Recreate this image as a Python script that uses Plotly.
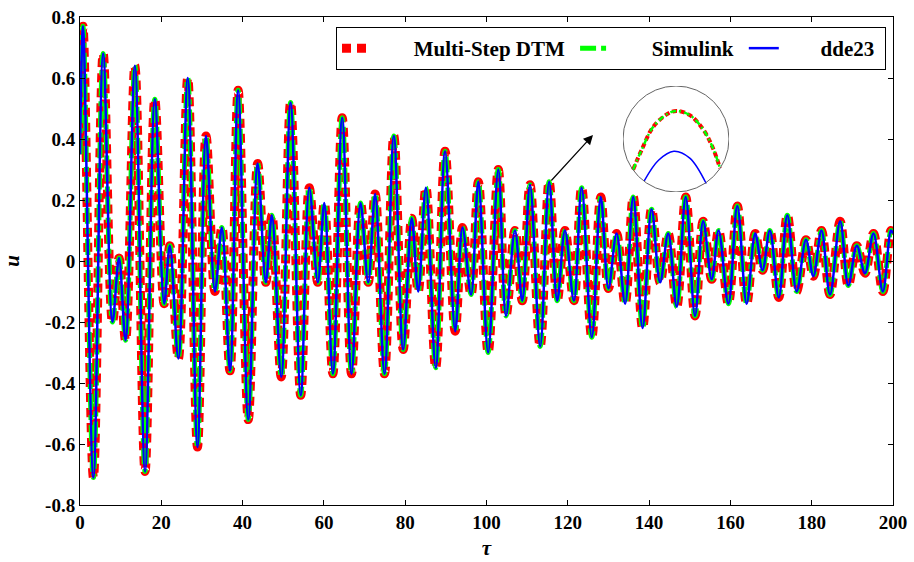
import plotly.graph_objects as go

# ---- data (local extrema) ----
tau = [0.0, 0.74, 3.3, 5.7, 8.0, 9.6, 11.2, 13.5, 16.0, 18.4, 20.7, 22.1, 24.2, 26.5, 28.9,
       31.0, 33.2, 34.9, 36.9, 38.9, 41.4, 43.7, 45.7, 47.2, 49.5, 51.8, 54.3, 56.4, 58.5,
       60.1, 62.2, 64.5, 66.8, 69.0, 70.9, 72.6, 74.9, 77.2, 79.5, 81.6, 83.2, 85.1, 87.5,
       89.8, 92.3, 94.1, 96.2, 98.0, 100.4, 102.9, 104.8, 107.0, 108.8, 110.7, 113.2, 115.4,
       117.4, 119.3, 121.5, 123.4, 125.9, 128.1, 130.0, 132.0, 134.1, 136.1, 138.4, 140.6,
       142.7, 144.7, 146.8, 149.0, 151.3, 153.3, 155.4, 157.1, 159.5, 161.7, 164.0, 166.1,
       167.9, 169.7, 171.9, 174.0, 176.3, 178.6, 180.4, 182.4, 184.5, 187.0, 189.0, 191.1,
       193.1, 195.2, 197.5, 199.5, 200.0]
u_dtm = [0.35, 0.77, -0.71, 0.68, -0.20, 0.01, -0.26, 0.64, -0.69, 0.53, -0.14, 0.05, -0.32, 0.60, -0.61,
         0.41, -0.10, 0.11, -0.36, 0.56, -0.52, 0.32, -0.07, 0.15, -0.38, 0.52, -0.44, 0.24, -0.07,
         0.19, -0.37, 0.47, -0.37, 0.19, -0.07, 0.22, -0.37, 0.41, -0.29, 0.14, -0.10, 0.24, -0.35,
         0.36, -0.23, 0.11, -0.11, 0.26, -0.30, 0.30, -0.18, 0.10, -0.13, 0.25, -0.28, 0.26,
         -0.13, 0.10, -0.13, 0.24, -0.25, 0.21, -0.09, 0.09, -0.14, 0.21, -0.22, 0.17,
         -0.07, 0.09, -0.15, 0.21, -0.18, 0.13, -0.06, 0.10, -0.14, 0.18, -0.14, 0.09,
         -0.03, 0.10, -0.12, 0.15, -0.10, 0.07, -0.05, 0.10, -0.11, 0.13, -0.08, 0.05,
         -0.04, 0.09, -0.10, 0.10, 0.09]
u_simulink = list(u_dtm)
u_dde23 = list(u_dtm)

# magnified view shown in the circle (local units)
zoom_x = [-0.81, -0.65, -0.43, -0.15, 0.01, 0.26, 0.52, 0.70, 0.83]
zoom_dtm = [-0.58, -0.21, 0.23, 0.48, 0.53, 0.45, 0.17, -0.18, -0.55]
zoom_x_dde = [-0.60, -0.33, -0.04, 0.26, 0.57]
zoom_dde = [-0.79, -0.40, -0.23, -0.36, -0.84]

x_ticks = [0, 20, 40, 60, 80, 100, 120, 140, 160, 180, 200]
y_ticks = [-0.8, -0.6, -0.4, -0.2, 0, 0.2, 0.4, 0.6, 0.8]
y_tick_text = ["-0.8", "-0.6", "-0.4", "-0.2", "0", "0.2", "0.4", "0.6", "0.8"]
series_names = ["Multi-Step DTM", "Simulink", "dde23"]

FONT = "Liberation Serif, Times New Roman, serif"
RED = "rgb(255,0,0)"
GREEN = "rgb(0,255,0)"
BLUE = "rgb(0,0,255)"

def legend_name(s):
    return "&nbsp;" * 7 + "<b>" + s + "</b>" + "&nbsp;"

fig = go.Figure()
fig.add_trace(go.Scatter(x=tau, y=u_dtm, mode="lines", name=legend_name(series_names[0]),
                         line=dict(color=RED, width=9, dash="9px,6px", shape="spline", smoothing=1.0)))
fig.add_trace(go.Scatter(x=tau, y=u_simulink, mode="lines", name=legend_name(series_names[1]),
                         line=dict(color=GREEN, width=5, dash="16px,5px,5px,5px", shape="spline", smoothing=1.0)))
fig.add_trace(go.Scatter(x=tau, y=u_dde23, mode="lines", name=legend_name(series_names[2]),
                         line=dict(color=BLUE, width=2.5, shape="spline", smoothing=1.0)))

# inset traces
fig.add_trace(go.Scatter(x=zoom_x, y=zoom_dtm, xaxis="x2", yaxis="y2", mode="lines", showlegend=False,
                         line=dict(color=RED, width=4, dash="5px,3px", shape="spline")))
fig.add_trace(go.Scatter(x=zoom_x, y=zoom_dtm, xaxis="x2", yaxis="y2", mode="lines", showlegend=False,
                         line=dict(color=GREEN, width=2.5, dash="6px,3px,2px,3px", shape="spline")))
fig.add_trace(go.Scatter(x=zoom_x_dde, y=zoom_dde, xaxis="x2", yaxis="y2", mode="lines", showlegend=False,
                         line=dict(color=BLUE, width=1.5, shape="spline")))

# plot area wanted at page px x 80..893, y 17..505 (body margin removed below)
W, H = 914, 562
X0, X1, Y0, Y1 = 80, 893, 17, 505
L, R, T, B = X0, W - X1, Y0, H - Y1
pw, ph = X1 - X0, Y1 - Y0

def px_to_paper_x(px):
    return (px - X0) / pw

def px_to_paper_y(py):
    return (Y1 - py) / ph

cx, cy, rr = 676, 139, 53

fig.update_layout(
    width=W, height=H,
    margin=dict(l=L, r=R, t=T, b=B, autoexpand=False),
    paper_bgcolor="white", plot_bgcolor="white",
    font=dict(family=FONT, size=18, color="black"),
    showlegend=True,
    legend=dict(orientation="h", x=px_to_paper_x(886), xanchor="right",
                y=px_to_paper_y(27), yanchor="top",
                bordercolor="black", borderwidth=1, bgcolor="white",
                font=dict(family=FONT, size=21, color="black")),
    xaxis=dict(range=[0, 200], tickvals=x_ticks, ticktext=[f"<b>{v}</b>" for v in x_ticks],
               ticks="inside", ticklen=5, tickcolor="black", showline=True, linecolor="black",
               linewidth=1, mirror="ticks", showgrid=False, zeroline=False, automargin=False,
               ticklabeloverflow="allow",
               tickfont=dict(family=FONT, size=19),
               title=dict(text="<b><i>τ</i></b>", font=dict(family=FONT, size=21), standoff=8)),
    yaxis=dict(range=[-0.8, 0.8], tickvals=y_ticks, ticktext=[f"<b>{t}</b>" for t in y_tick_text],
               ticks="inside", ticklen=5, tickcolor="black", showline=True, linecolor="black",
               linewidth=1, mirror="ticks", showgrid=False, zeroline=False, automargin=False,
               ticklabeloverflow="allow",
               tickfont=dict(family=FONT, size=19),
               title=dict(text="<b><i>u</i></b>", font=dict(family=FONT, size=21), standoff=20)),
    xaxis2=dict(domain=[px_to_paper_x(cx - rr), px_to_paper_x(cx + rr)], range=[-1, 1],
                anchor="y2", visible=False),
    yaxis2=dict(domain=[px_to_paper_y(cy + rr), px_to_paper_y(cy - rr)], range=[-1, 1],
                anchor="x2", visible=False),
)

fig.add_shape(type="circle", xref="x2", yref="y2", x0=-1, x1=1, y0=-1, y1=1,
              line=dict(color="rgb(100,100,100)", width=1))

# arrow pointing to the magnified view
head_tau = (593 - X0) / pw * 200
head_u = 0.8 - (135 - Y0) / ph * 1.6
fig.add_annotation(x=head_tau, y=head_u, xref="x", yref="y", ax=-43, ay=47, text="",
                   showarrow=True, arrowhead=2, arrowsize=1.6, arrowwidth=1.2, arrowcolor="black")

fig.write_html("out.html", config={"displayModeBar": False},
               post_script="document.body.style.margin='0';document.body.style.overflow='hidden';")
